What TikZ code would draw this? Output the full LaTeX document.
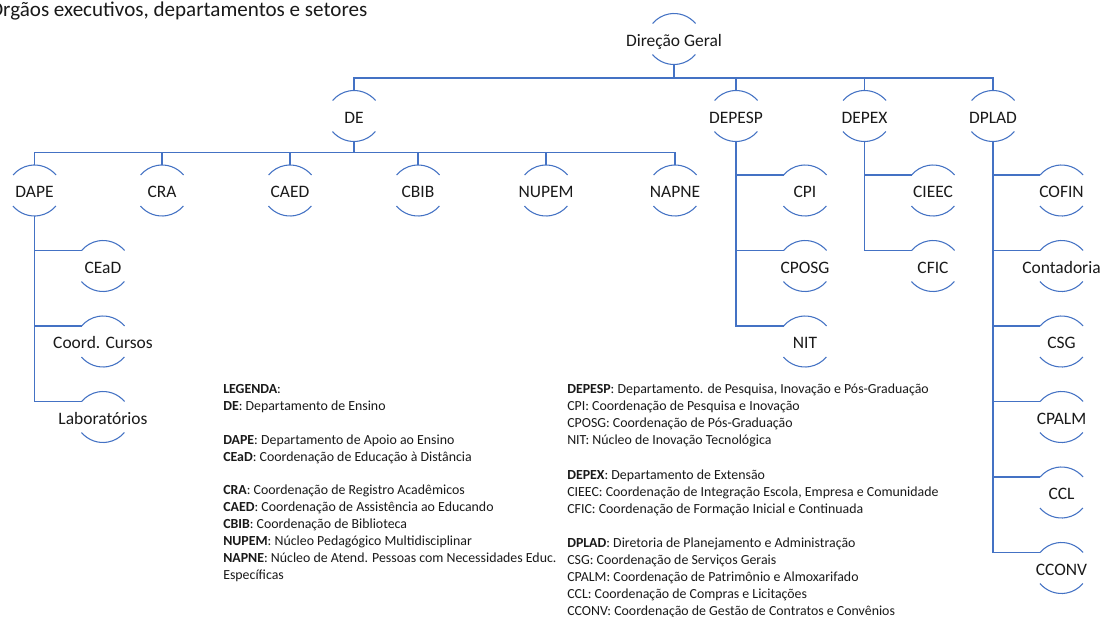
\documentclass[tikz,border=0pt]{standalone}
\usepackage{fontspec}
\setmainfont{Carlito}
\usetikzlibrary{calc}
\definecolor{linkblue}{HTML}{4472C4}
\definecolor{inkc}{HTML}{1A1A1A}

% two arcs (above and below the label) that form the ring of a unit
\newcommand\ringarcs[1]{%
  \draw[link] ($(#1.center)+(21.5,15.5)$) arc[start angle=40,end angle=140,radius=28];
  \draw[link] ($(#1.center)+(-21.5,-15.5)$) arc[start angle=220,end angle=320,radius=28];
}

\tikzset{
  x=0.75pt, y=0.75pt,
  link/.style={draw=linkblue, line width=0.8pt},
  unit/.style={shape=rectangle, inner sep=0pt, outer sep=0pt,
    minimum height=38.25pt, minimum width=32pt,
    text height=10.55pt, text depth=0pt,
    font=\fontsize{13.1}{15}\selectfont, text=inkc},
  legendline/.style={anchor=base west, inner sep=0pt,
    font=\fontsize{10.4}{12.75}\selectfont, text=inkc},
}

\begin{document}
\begin{tikzpicture}
\path[use as bounding box, fill=white] (0,0) rectangle (1101,-617);

\node[anchor=base west, inner sep=0pt, font=\fontsize{15.8}{19}\selectfont, text=inkc]
  (title) at (-11,-16.5) {Órgãos executivos, departamentos e setores};

% top management and departments
\node[unit] (dg)     at (674,-39)    {Direção Geral};
\node[unit] (de)     at (354,-116)   {DE};
\node[unit] (depesp) at (736,-116)   {DEPESP};
\node[unit] (depex)  at (864.5,-116) {DEPEX};
\node[unit] (dplad)  at (993,-116)   {DPLAD};

% units under DE
\node[unit] (dape)  at (34.5,-190.5) {DAPE};
\node[unit] (cra)   at (162,-190.5)  {CRA};
\node[unit] (caed)  at (290,-190.5)  {CAED};
\node[unit] (cbib)  at (418,-190.5)  {CBIB};
\node[unit] (nupem) at (546,-190.5)  {NUPEM};
\node[unit] (napne) at (675,-190.5)  {NAPNE};

% units under DAPE
\node[unit] (cead)   at (103,-266)   {CEaD};
\node[unit] (cursos) at (103,-341.5) {Coord. Cursos};
\node[unit] (labs)   at (103,-417)   {Laboratórios};

% units under DEPESP
\node[unit] (cpi)   at (805,-190.5) {CPI};
\node[unit] (cposg) at (805,-266)   {CPOSG};
\node[unit] (nit)   at (805,-341.5) {NIT};

% units under DEPEX
\node[unit] (cieec) at (933,-190.5) {CIEEC};
\node[unit] (cfic)  at (933,-266)   {CFIC};

% units under DPLAD
\node[unit] (cofin)      at (1061.5,-190.5) {COFIN};
\node[unit] (contadoria) at (1061.5,-266)   {Contadoria};
\node[unit] (csg)        at (1061.5,-341.5) {CSG};
\node[unit] (cpalm)      at (1061.5,-417)   {CPALM};
\node[unit] (ccl)        at (1061.5,-492.5) {CCL};
\node[unit] (cconv)      at (1061.5,-568)   {CCONV};

\foreach \n in {dg,de,depesp,depex,dplad,dape,cra,caed,cbib,nupem,napne,
                cead,cursos,labs,cpi,cposg,nit,cieec,cfic,
                cofin,contadoria,csg,cpalm,ccl,cconv} {\ringarcs{\n}}

% horizontal buses
\foreach \c in {de,depesp,depex,dplad}
  \draw[link] (dg.south) |- ($(\c.north)+(0,12.5)$) -- (\c.north);
\foreach \c in {dape,cra,caed,cbib,nupem,napne}
  \draw[link] (de.south) |- ($(\c.north)+(0,12.5)$) -- (\c.north);

% vertical side branches
\foreach \c in {cead,cursos,labs}
  \draw[link] (dape.south) |- ($(\c.center)+(-21.5,15.5)$);
\foreach \c in {cpi,cposg,nit}
  \draw[link] (depesp.south) |- ($(\c.center)+(-21.5,15.5)$);
\foreach \c in {cieec,cfic}
  \draw[link] (depex.south) |- ($(\c.center)+(-21.5,15.5)$);
\foreach \c in {cofin,contadoria,csg,cpalm,ccl,cconv}
  \draw[link] (dplad.south) |- ($(\c.center)+(-21.5,15.5)$);

% legend, left column
\foreach \k/\t in {
  0/{\textbf{LEGENDA}:},
  1/{\textbf{DE}: Departamento de Ensino},
  3/{\textbf{DAPE}: Departamento de Apoio ao Ensino},
  4/{\textbf{CEaD}: Coordenação de Educação à Distância},
  6/{\textbf{CRA}: Coordenação de Registro Acadêmicos},
  7/{\textbf{CAED}: Coordenação de Assistência ao Educando},
  8/{\textbf{CBIB}: Coordenação de Biblioteca},
  9/{\textbf{NUPEM}: Núcleo Pedagógico Multidisciplinar},
  10/{\textbf{NAPNE}: Núcleo de Atend. Pessoas com Necessidades Educ.},
  11/{Específicas}}
  \node[legendline] (legl-\k) at (223,{-393.5-16.9*\k}) {\t};

% legend, right column
\foreach \k/\t in {
  0/{\textbf{DEPESP}: Departamento. de Pesquisa, Inovação e Pós-Graduação},
  1/{CPI: Coordenação de Pesquisa e Inovação},
  2/{CPOSG: Coordenação de Pós-Graduação},
  3/{NIT: Núcleo de Inovação Tecnológica},
  5/{\textbf{DEPEX}: Departamento de Extensão},
  6/{CIEEC: Coordenação de Integração Escola, Empresa e Comunidade},
  7/{CFIC: Coordenação de Formação Inicial e Continuada},
  9/{\textbf{DPLAD}: Diretoria de Planejamento e Administração},
  10/{CSG: Coordenação de Serviços Gerais},
  11/{CPALM: Coordenação de Patrimônio e Almoxarifado},
  12/{CCL: Coordenação de Compras e Licitações},
  13/{CCONV: Coordenação de Gestão de Contratos e Convênios}}
  \node[legendline] (legr-\k) at (567,{-393.5-17.1*\k}) {\t};
\end{tikzpicture}
\end{document}
